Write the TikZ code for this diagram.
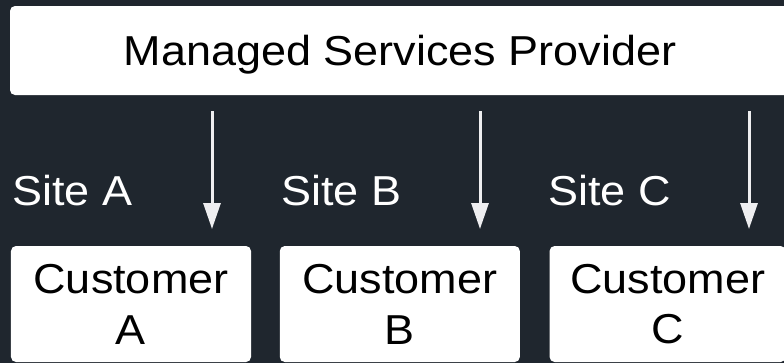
\documentclass[tikz,border=0pt]{standalone}
\usepackage{fontspec}
\setmainfont[FakeStretch=1.075]{Liberation Sans}
\usetikzlibrary{positioning, arrows.meta}

\definecolor{bgdark}{RGB}{31,38,46}
\definecolor{arrowgray}{RGB}{238,238,240}

\begin{document}
\begin{tikzpicture}
    [
        x=0.5bp, y=-0.5bp, node distance=14bp,
        white_box/.style={rectangle, rounded corners=2.5bp, fill=white, text=black, inner sep=0pt, align=center, font=\fontsize{21}{25.5}\selectfont},
        cust_box/.style={white_box, minimum width=120bp, minimum height=58bp},
        site_label/.style={anchor=base west, text=white, inner sep=0pt, font=\fontsize{21}{25}\selectfont},
        down_arrow/.style={-{Triangle[length=13bp, width=8.5bp]}, line width=1.5bp, color=arrowgray},
    ]
        \useasboundingbox (0,0) rectangle (784,363);
        \fill[bgdark] (0,0) rectangle (784,363);
        % provider banner, runs off the right edge
        \fill[white, rounded corners=2.5bp] (10,6) rectangle (800,95);
        \node[anchor=base, inner sep=0pt, text=black, font=\fontsize{21}{25}\selectfont] (msp) at (400,65) {Managed Services Provider};
        % customers
        \node[cust_box] (custA) at (131,304) {Customer\\A};
        \node[cust_box] (custB) [right = of custA] {Customer\\B};
        \node[cust_box, minimum width=118bp] (custC) [right = 14.5bp of custB] {Customer\\C};
        % sites
        \node[site_label] (siteA) at (12,205) {Site A};
        \node[site_label] (siteB) at (281,205) {Site B};
        \node[site_label] (siteC) at (548,205) {Site C};
        % arrows
        \coordinate (srcA) at (212,111);
        \coordinate (tipA) at (212,229);
        \coordinate (srcB) at (480,111);
        \coordinate (tipB) at (480,229);
        \coordinate (srcC) at (749,111);
        \coordinate (tipC) at (749,229);
        \draw[down_arrow] (srcA) -- (tipA);
        \draw[down_arrow] (srcB) -- (tipB);
        \draw[down_arrow] (srcC) -- (tipC);
    \end{tikzpicture}
\end{document}
